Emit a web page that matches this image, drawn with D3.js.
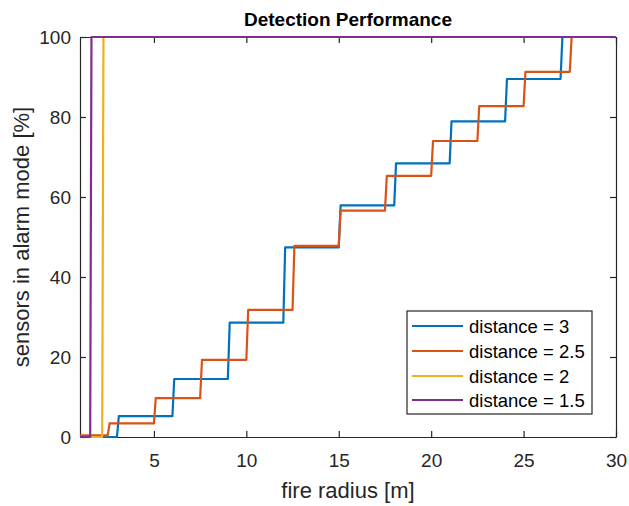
<!DOCTYPE html>
<html>
<head>
<meta charset="utf-8">
<script src="https://cdn.jsdelivr.net/npm/d3@7"></script>
<style>
  html, body { margin: 0; padding: 0; background: #fff; }
  svg { display: block; }
  text { font-family: "Liberation Sans", Arial, Helvetica, sans-serif; fill: #262626; }
</style>
</head>
<body>
<div id="chart"></div>
<script>
// ---- Data ----
const seriesNames = ["distance = 3", "distance = 2.5", "distance = 2", "distance = 1.5"];
const seriesColors = ["#0072BD", "#D95319", "#EDB120", "#7E2F8E"];

const blueX = [1, 3.0, 3.1, 6.0, 6.1, 9.0, 9.1, 12.0, 12.1, 15.0, 15.1, 18.0, 18.1, 21.0, 21.1, 24.0, 24.1, 27.0, 27.1, 30];
const blueY = [0, 0, 5.2, 5.2, 14.5, 14.5, 28.6, 28.6, 47.4, 47.4, 57.9, 57.9, 68.4, 68.4, 78.9, 78.9, 89.5, 89.5, 100, 100];

const orangeX = [1, 2.5, 2.6, 5.0, 5.1, 7.5, 7.6, 10.0, 10.1, 12.5, 12.6, 15.0, 15.1, 17.5, 17.6, 20.0, 20.1, 22.5, 22.6, 25.0, 25.1, 27.5, 27.6, 30];
const orangeY = [0.4, 0.4, 3.4, 3.4, 9.7, 9.7, 19.3, 19.3, 31.8, 31.8, 47.8, 47.8, 56.6, 56.6, 65.3, 65.3, 74.0, 74.0, 82.7, 82.7, 91.3, 91.3, 100, 100];

const yellowX = [1, 2.2, 2.27, 30];
const yellowY = [0, 0, 100, 100];

const purpleX = [1, 1.55, 1.62, 30];
const purpleY = [0, 0, 100, 100];

const xTicks = [5, 10, 15, 20, 25, 30];
const yTicks = [0, 20, 40, 60, 80, 100];

const titleText = "Detection Performance";
const xLabelText = "fire radius [m]";
const yLabelText = "sensors in alarm mode [%]";

// ---- Layout ----
const W = 629, H = 506;
const margin = { left: 80, right: 13, top: 37, bottom: 69 };
const pw = W - margin.left - margin.right;
const ph = H - margin.top - margin.bottom;
const axisColor = "#262626";

const svg = d3.select("#chart").append("svg").attr("width", W).attr("height", H);

const x = d3.scaleLinear().domain([1, 30]).range([margin.left, margin.left + pw]);
const y = d3.scaleLinear().domain([0, 100]).range([margin.top + ph, margin.top]);

svg.append("rect").attr("x", margin.left).attr("y", margin.top).attr("width", pw).attr("height", ph).attr("fill", "#fff");

// axes (MATLAB style: ticks inside, box on)
const tickLen = 6;
const gx = svg.append("g").attr("transform", `translate(0,${margin.top + ph})`)
  .call(d3.axisBottom(x).tickValues(xTicks).tickSizeInner(-tickLen).tickSizeOuter(0).tickPadding(16.5).tickFormat(d3.format("d")));
const gxTop = svg.append("g").attr("transform", `translate(0,${margin.top})`)
  .call(d3.axisTop(x).tickValues(xTicks).tickSizeInner(-tickLen).tickSizeOuter(0).tickFormat(""));
const gy = svg.append("g").attr("transform", `translate(${margin.left},0)`)
  .call(d3.axisLeft(y).tickValues(yTicks).tickSizeInner(-tickLen).tickSizeOuter(0).tickPadding(9).tickFormat(d3.format("d")));
const gyR = svg.append("g").attr("transform", `translate(${margin.left + pw},0)`)
  .call(d3.axisRight(y).tickValues(yTicks).tickSizeInner(-tickLen).tickSizeOuter(0).tickFormat(""));

[gx, gxTop, gy, gyR].forEach(g => {
  g.selectAll("path.domain").attr("stroke", axisColor).attr("stroke-width", 1.2);
  g.selectAll(".tick line").attr("stroke", axisColor).attr("stroke-width", 1.2);
  g.selectAll(".tick text").attr("fill", axisColor).style("font-size", "19px")
    .style("font-family", "'Liberation Sans', Arial, sans-serif");
});

// series
const seriesData = [
  { xs: blueX, ys: blueY },
  { xs: orangeX, ys: orangeY },
  { xs: yellowX, ys: yellowY },
  { xs: purpleX, ys: purpleY }
];
const line = d3.line().x(d => x(d[0])).y(d => y(d[1]));
seriesData.forEach((s, i) => {
  const pts = s.xs.map((v, j) => [v, s.ys[j]]);
  svg.append("path").datum(pts)
    .attr("d", line)
    .attr("fill", "none")
    .attr("stroke", seriesColors[i])
    .attr("stroke-width", 2.2)
    .attr("stroke-linejoin", "round");
});

// title
svg.append("text").attr("x", margin.left + pw / 2).attr("y", 26)
  .attr("text-anchor", "middle").style("font-size", "19px").style("font-weight", "bold")
  .style("fill", "#000").text(titleText);

// x label
svg.append("text").attr("x", margin.left + pw / 2).attr("y", 498)
  .attr("text-anchor", "middle").style("font-size", "22px").text(xLabelText);

// y label
svg.append("text").attr("transform", `translate(29,${margin.top + ph / 2}) rotate(-90)`)
  .attr("text-anchor", "middle").style("font-size", "22px").text(yLabelText);

// legend
const lg = { x: 407, y: 311, w: 185, h: 103 };
svg.append("rect").attr("x", lg.x).attr("y", lg.y).attr("width", lg.w).attr("height", lg.h)
  .attr("fill", "#fff").attr("stroke", axisColor).attr("stroke-width", 1.2);
const rowY = [326, 351, 376, 400];
seriesNames.forEach((name, i) => {
  svg.append("line").attr("x1", 412).attr("x2", 463).attr("y1", rowY[i]).attr("y2", rowY[i])
    .attr("stroke", seriesColors[i]).attr("stroke-width", 2.2);
  svg.append("text").attr("x", 469).attr("y", rowY[i] + 6.5)
    .style("font-size", "18.5px").style("fill", "#000").text(name);
});
</script>
</body>
</html>
